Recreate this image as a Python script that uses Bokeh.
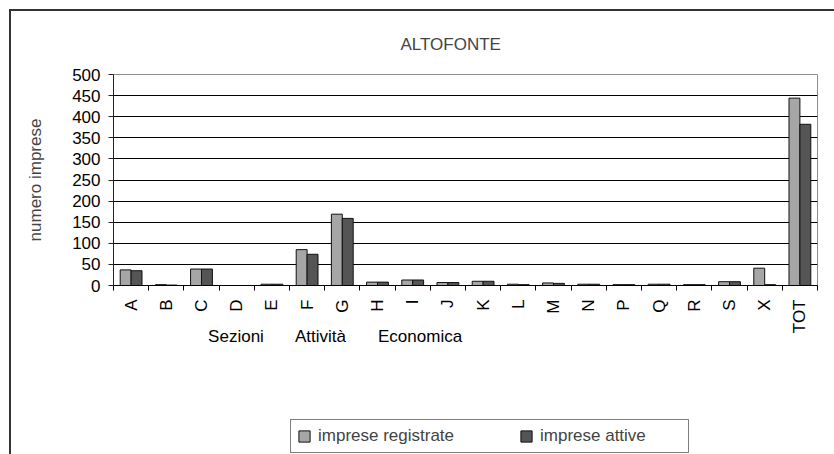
import math
from bokeh.plotting import figure
from bokeh.layouts import column
from bokeh.models import (ColumnDataSource, Range1d, FixedTicker, Legend, LegendItem,
                          LinearAxis)
from bokeh.transform import dodge
from bokeh.embed import file_html
from bokeh.resources import INLINE

categories = ["A", "B", "C", "D", "E", "F", "G", "H", "I", "J", "K", "L", "M",
              "N", "P", "Q", "R", "S", "X", "TOT"]
imprese_registrate = [37, 2, 39, 0, 3, 85, 169, 8, 13, 7, 10, 3, 6, 3, 2, 3, 2, 9, 41, 444]
imprese_attive = [35, 1, 39, 0, 3, 74, 159, 8, 13, 7, 10, 2, 5, 3, 2, 3, 2, 9, 2, 382]
y_ticks = [0, 50, 100, 150, 200, 250, 300, 350, 400, 450, 500]
series_names = ["imprese registrate", "imprese attive"]
title_text = "ALTOFONTE"
x_title_words = ["Sezioni", "Attività", "Economica"]
y_title = "numero imprese"

# layout constants (positions of the x-axis title words, in category units)
x_title_pos = [2.98, 5.38, 8.21]

FONT = "Liberation Sans"
FS = "17px"
REG_COLOR = "#a6a6a6"
ATT_COLOR = "#555555"
EDGE = "#111111"

n = len(categories)
idx = list(range(n))
src = ColumnDataSource(dict(x=idx, reg=imprese_registrate, att=imprese_attive))

p = figure(width=823, height=404, output_backend="svg", toolbar_location=None,
           x_range=Range1d(-0.5, n - 0.5), y_range=Range1d(0, 500),
           min_border_left=102, min_border_right=17, min_border_top=63,
           min_border_bottom=130)

p.outline_line_color = "#8c8c8c"
p.outline_line_width = 1
p.background_fill_color = "white"
p.border_fill_color = "white"

# title
p.title.text = title_text
p.title.align = "left"
p.title.offset = 287
p.title.text_font = FONT
p.title.text_font_size = FS
p.title.text_font_style = "normal"
p.title.standoff = 41

bw = 0.31
r1 = p.vbar(x=dodge("x", -bw / 2, range=p.x_range), top="reg", width=bw, bottom=0,
            source=src, fill_color=REG_COLOR, line_color=EDGE, line_width=1)
r2 = p.vbar(x=dodge("x", bw / 2, range=p.x_range), top="att", width=bw, bottom=0,
            source=src, fill_color=ATT_COLOR, line_color=EDGE, line_width=1)

# y axis
yax = p.yaxis[0]
yax.ticker = FixedTicker(ticks=y_ticks)
yax.major_tick_in = 0
yax.major_tick_out = 5
yax.minor_tick_line_color = None
yax.axis_line_color = "#222222"
yax.major_tick_line_color = "#222222"
yax.major_label_text_font = FONT
yax.major_label_text_font_size = FS
yax.major_label_text_color = "black"
yax.major_label_standoff = 8
yax.axis_label = y_title
yax.axis_label_text_font = FONT
yax.axis_label_text_font_size = FS
yax.axis_label_text_font_style = "normal"
yax.axis_label_standoff = 24

p.ygrid.ticker = FixedTicker(ticks=y_ticks[1:-1])
p.ygrid.grid_line_color = "black"
p.ygrid.grid_line_width = 1
p.xgrid.grid_line_color = None

# x axis: labels at category centres, ticks at category boundaries
xax = p.xaxis[0]
xax.ticker = FixedTicker(ticks=idx, minor_ticks=[i - 0.5 for i in range(n + 1)])
xax.major_label_overrides = {i: c for i, c in enumerate(categories)}
xax.major_tick_in = 0
xax.major_tick_out = 0
xax.minor_tick_in = 0
xax.minor_tick_out = 5
xax.minor_tick_line_color = "black"
xax.axis_line_color = "black"
xax.major_label_orientation = math.pi / 2
xax.major_label_text_font = FONT
xax.major_label_text_font_size = FS
xax.major_label_text_color = "black"
xax.major_label_standoff = 9

# x axis title, as a second axis carrying the three words
xax2 = LinearAxis(ticker=FixedTicker(ticks=x_title_pos),
                  major_label_overrides={v: w for v, w in zip(x_title_pos, x_title_words)})
xax2.axis_line_color = None
xax2.major_tick_line_color = None
xax2.minor_tick_line_color = None
xax2.major_tick_in = 0
xax2.major_tick_out = 0
xax2.major_label_standoff = -10
xax2.major_label_text_font = FONT
xax2.major_label_text_font_size = FS
xax2.major_label_text_color = "black"
p.add_layout(xax2, "below")

# legend, in its own strip below the chart (its renderers are hidden,
# only their legend glyphs are shown)
p2 = figure(width=823, height=39, output_backend="svg", toolbar_location=None,
            x_range=Range1d(-0.5, n - 0.5), y_range=Range1d(0, 500), min_border=0,
            x_axis_type=None, y_axis_type=None)
p2.outline_line_color = None
p2.background_fill_color = "white"
p2.border_fill_color = "white"
l1 = p2.vbar(x="x", top="reg", bottom=0, width=bw, source=src,
             fill_color=REG_COLOR, line_color=EDGE, line_width=1)
l2 = p2.vbar(x="x", top="att", bottom=0, width=bw, source=src,
             fill_color=ATT_COLOR, line_color=EDGE, line_width=1)
l1.visible = False
l2.visible = False
legend = Legend(items=[LegendItem(label=series_names[0], renderers=[l1]),
                       LegendItem(label=series_names[1], renderers=[l2])],
                location=(177, 1), orientation="horizontal", click_policy="none")
legend.label_text_font = FONT
legend.label_text_font_size = FS
legend.glyph_width = 14
legend.glyph_height = 14
legend.label_standoff = 7
legend.label_width = 142
legend.label_height = 18
legend.spacing = 59
legend.padding = 6
legend.margin = 0
legend.border_line_color = "black"
legend.border_line_width = 1
legend.background_fill_alpha = 1
p2.add_layout(legend, "center")

layout = column(p, p2, spacing=0)
layout.styles = {"margin-left": "9px", "margin-top": "9px",
                 "border-left": "2px solid #333333", "border-top": "2px solid #333333"}

open("out.html", "w").write(file_html(layout, INLINE))
